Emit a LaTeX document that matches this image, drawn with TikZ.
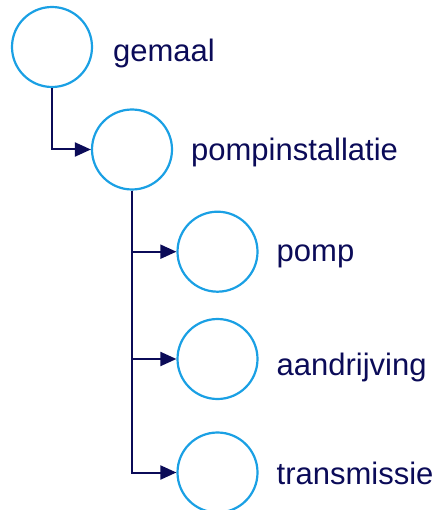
\documentclass[tikz,border=0pt]{standalone}
\usepackage{fontspec}
\setmainfont{Liberation Sans}
\usetikzlibrary{arrows.meta}
\definecolor{ringblue}{HTML}{1AA0E4}
\definecolor{navy}{HTML}{0B0B58}
\tikzset{
  part/.style={circle, draw=ringblue, line width=2.2pt, minimum size=80pt, inner sep=0pt},
  partname/.style={anchor=base west, inner sep=0pt, text=navy, font=\fontsize{31}{31}\selectfont},
  link/.style={draw=navy, line width=2pt, -{Triangle[length=16pt,width=14pt]}}
}
\begin{document}
\begin{tikzpicture}[x=1pt,y=-1pt]
  \useasboundingbox (0,0) rectangle (444,510);

  % Draw the circles
  \node[part] (gemaal) at (52,47) {};
  \node[part] (pompinst) at (132,149.5) {};
  \node[part] (pomp) at (217.5,251.7) {};
  \node[part] (aandr) at (217.5,359) {};
  \node[part] (transm) at (217.5,472.5) {};

  % Labels
  \node[partname] (gemaallbl) at (113,62) {gemaal};
  \node[partname] (pompinstlbl) at (191,161) {pompinstallatie};
  \node[partname] (pomplbl) at (276.5,261.7) {pomp};
  \node[partname] (aandrlbl) at (276.5,375.7) {aandrijving};
  \node[partname] (transmlbl) at (276.5,484) {transmissie};

  % Draw the tree links
  \draw[link] (gemaal.south) |- (pompinst.west);
  \draw[link] (pompinst.south) |- (pomp.west);
  \draw[link] (pompinst.south) |- (aandr.west);
  \draw[link] (pompinst.south) |- (transm.west);
\end{tikzpicture}
\end{document}
